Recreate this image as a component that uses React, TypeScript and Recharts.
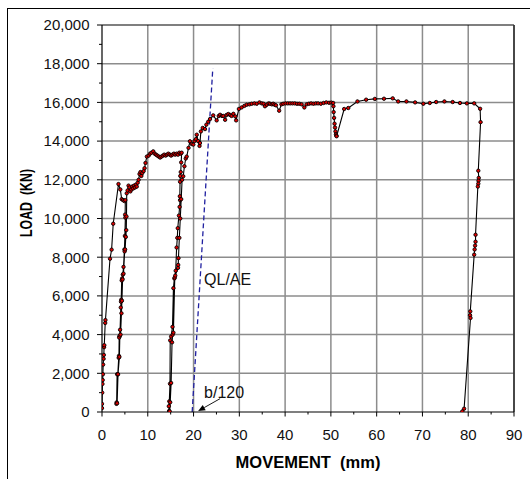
import React from 'react';
import {
  LineChart,
  Line,
  XAxis,
  YAxis,
  CartesianGrid,
  ReferenceLine,
  ReferenceDot,
} from 'recharts';

// Pile load test record: head movement (mm) against applied load (kN), in reading order
const movement = [
  0, 0, 0.05, 0.1, 0.15, 0.2, 0.25, 0.35, 0.4, 0.45, 0.5, 0.7, 0.75, 1.75, 2.1, 2.45, 3.6,
  4.0, 4.3, 4.6, 4.9, 5.1, 5.05, 5.1, 5.0,
  4.9, 4.7, 4.55, 4.4, 4.3, 4.2, 4.15, 4.1, 3.95, 3.8, 3.75, 3.7, 3.65, 3.45, 3.3, 3.2, 3.15,
  3.3, 3.5, 3.8, 3.9, 4.05, 4.25, 4.35, 4.5, 4.7, 4.95, 5.05, 5.2, 5.3, 5.35, 5.4,
  5.6, 5.8, 6.0, 6.2, 6.4, 6.6, 6.8, 7.0, 7.2, 7.4, 7.6, 7.8, 8.0, 8.2, 8.4, 8.6, 8.8, 9.1, 9.3, 9.5, 9.8,
  10.2, 10.5, 10.8, 11.2, 11.5, 11.8, 12.1, 12.4, 12.7, 13.0, 13.3, 13.6, 13.9, 14.2, 14.5, 14.8,
  15.1, 15.4, 15.7, 16.0, 16.3, 16.6, 16.9, 17.2, 17.4,
  17.3, 17.2, 17.1, 17.05, 17.0, 17.05, 16.95, 16.8, 16.55, 16.45,
  16.3, 16.1, 15.8, 15.6, 15.4, 15.1, 14.9, 14.85, 14.7, 14.6, 14.65,
  14.8, 14.9, 15.1, 15.3, 15.45, 15.6, 15.9, 16.0, 16.6, 16.65, 16.7, 16.9, 17.1, 17.3, 17.5,
  17.75, 18.0, 18.3, 18.5, 18.9, 19.2, 19.6, 19.95, 20.2, 20.5, 20.7, 21.0, 21.3, 21.4, 21.6, 22.0,
  22.5, 22.8, 23.2, 23.6, 24.3, 25.05, 25.5, 25.8, 26.2, 26.5, 26.9, 27.2, 27.6, 28.0, 28.3, 28.7,
  29.1, 29.3, 29.9, 30.5, 31.1, 31.6, 32.2, 32.7, 33.3, 33.8, 34.4, 34.9, 35.3, 35.6, 36.0, 36.4,
  36.7, 37.1, 37.4, 37.7, 38.0, 38.7, 39.2, 39.6, 40.1, 40.6, 41.1, 41.6, 42.1, 42.6, 43.1, 43.6,
  44.2, 44.7, 45.2, 45.7, 46.2, 46.7, 47.2, 47.8, 48.4, 49.0, 49.6, 50.1, 50.5,
  50.55, 50.6, 50.7, 50.8, 50.9, 51.0, 51.1, 51.2, 51.25,
  52.9, 53.8, 55.8, 57.7, 59.6, 61.6, 63.5, 64.7, 66.5, 68.4, 70.2, 71.6, 73.0, 74.8, 76.6, 78.2,
  79.7, 81.3, 82.6, 82.7,
  82.2, 82.3, 82.25, 82.2, 82.1, 81.6, 81.6, 81.5, 81.4, 81.3, 80.45, 80.4, 80.5, 79.1, 78.7,
];

const load = [
  200, 420, 1000, 1450, 1650, 1950, 2450, 2750, 2950, 3350, 3450, 4600, 4750, 7920, 8390, 9730, 11780,
  11500, 11000, 10950, 10900, 10950, 10200, 10050, 9100,
  8400, 7500, 7100, 6900, 6800, 5800, 5700, 5400, 4250, 3900, 3850, 2900, 2800, 1950, 1950, 500, 420,
  450, 1950, 2850, 3950, 4000, 5100, 5750, 6850, 7150, 8300, 8400, 9050, 9400, 10100, 11300,
  11450, 11700, 11600, 11400, 11500, 11650, 11550, 11700, 11600, 11750, 11650, 11850, 12000, 12300, 12400, 12200, 12350, 12450, 12600, 12870, 13200,
  13250, 13350, 13400, 13470, 13350, 13300, 13250, 13200, 13150, 13200, 13250, 13300, 13250, 13300, 13350, 13300,
  13250, 13300, 13350, 13300, 13350, 13300, 13400, 13350, 13400,
  12900, 12400, 12200, 11900, 11150, 10950, 10600, 10150, 9500, 9000,
  8500, 7300, 6900, 6400, 4400, 3900, 3700, 1460, 550, 300, 50,
  30, 500, 1500, 3600, 4000, 4100, 6950, 7050, 7450, 7600, 7950, 9000, 10000, 11000, 12000,
  12180, 12700, 13100, 13200, 13650, 13990, 13850, 13820, 14000, 14100, 14330, 14000, 13750, 13900, 14500, 14680,
  14620, 14850, 15000, 15140, 15330, 15070, 15300, 15360, 15300, 15300, 15100, 15350, 15400, 15350, 15300, 15410,
  15280, 15070, 15660, 15740, 15820, 15880, 15900, 15930, 15950, 15930, 16000, 15950, 15930, 15800, 15880, 15950,
  15930, 15900, 15930, 15880, 15850, 15570, 15900, 15930, 15950, 15950, 15950, 15950, 15950, 15930, 15930, 15900,
  15740, 15900, 15930, 15950, 15930, 15950, 15950, 15930, 15970, 16000, 15980, 15990, 15970,
  15800, 15500, 15200, 14900, 14700, 14500, 14350, 14280, 14250,
  15660, 15710, 16050, 16140, 16180, 16190, 16210, 16050, 16050, 16000, 15930, 15970, 16020, 16050, 16020, 15970,
  15950, 15950, 15670, 14980,
  12470, 12100, 11950, 11800, 11650, 9160, 8800, 8600, 8400, 8130, 5200, 5000, 4860, 170, 30,
];

// Elastic compression line QL/AE, offset by b/120
const qlaeMovement = [19.7, 24.2];
const qlaeLoad = [0, 17750];

const xTicks = [0, 5, 10, 15, 20, 25, 30, 35, 40, 45, 50, 55, 60, 65, 70, 75, 80, 85, 90];
const yTicks = [
  0, 1000, 2000, 3000, 4000, 5000, 6000, 7000, 8000, 9000, 10000,
  11000, 12000, 13000, 14000, 15000, 16000, 17000, 18000, 19000, 20000,
];
const xGrid = [10, 20, 30, 40, 50, 60, 70, 80];
const yGrid = [2000, 4000, 6000, 8000, 10000, 12000, 14000, 16000, 18000];

const curve = movement.map((x, i) => ({ x, y: load[i] }));
const qlae = qlaeMovement.map((x, i) => ({ x, y: qlaeLoad[i] }));

const FONT = '"Liberation Sans", Arial, Helvetica, sans-serif';

function XTick(props: any) {
  const { x, y, payload } = props;
  const major = payload.value % 10 === 0;
  return (
    <g>
      <line x1={x} x2={x} y1={y} y2={y + (major ? 4.5 : 2.5)} stroke="#000" strokeWidth={1} />
      {major && (
        <text x={x} y={y + 28} textAnchor="middle" fontSize={15} fontFamily={FONT} fill="#111">
          {payload.value}
        </text>
      )}
    </g>
  );
}

function YTick(props: any) {
  const { x, y, payload } = props;
  const major = payload.value % 2000 === 0;
  return (
    <g>
      <line x1={x - (major ? 5 : 3)} x2={x} y1={y} y2={y} stroke="#000" strokeWidth={1} />
      {major && (
        <text x={x - 12.5} y={y + 5.3} textAnchor="end" fontSize={15} fontFamily={FONT} fill="#111">
          {payload.value.toLocaleString('en-US')}
        </text>
      )}
    </g>
  );
}

function XTitle(props: any) {
  const { viewBox } = props;
  return (
    <text
      x={viewBox.x + viewBox.width / 2}
      y={viewBox.y + 55.5}
      textAnchor="middle"
      fontSize={16.5}
      fontWeight="bold"
      fontFamily={FONT}
      fill="#000"
      style={{ whiteSpace: 'pre' }}
    >
      {'MOVEMENT  (mm)'}
    </text>
  );
}

function YTitle(props: any) {
  const { viewBox } = props;
  const cx = viewBox.x + 32;
  const cy = viewBox.y + viewBox.height / 2 - 15.5;
  return (
    <text
      x={cx}
      y={cy}
      transform={`rotate(-90 ${cx} ${cy})`}
      textAnchor="middle"
      fontSize={16.5}
      fontWeight="bold"
      fontFamily={FONT}
      fill="#000"
      textLength={68}
      lengthAdjust="spacingAndGlyphs"
      style={{ whiteSpace: 'pre' }}
    >
      {'LOAD  (KN)'}
    </text>
  );
}

function Note(text: string) {
  return (p: any) => (
    <text x={p.cx} y={p.cy} fontSize={16} fontFamily={FONT} fill="#111">
      {text}
    </text>
  );
}

function Arrow(p: any) {
  const { x1, y1, x2, y2 } = p;
  const ang = Math.atan2(y2 - y1, x2 - x1);
  const len = 7;
  const w = 3;
  const bx = x2 - len * Math.cos(ang);
  const by = y2 - len * Math.sin(ang);
  const nx = -Math.sin(ang) * w;
  const ny = Math.cos(ang) * w;
  return (
    <g>
      <line x1={x1} y1={y1} x2={bx} y2={by} stroke="#000" strokeWidth={0.9} />
      <polygon points={`${x2},${y2} ${bx + nx},${by + ny} ${bx - nx},${by - ny}`} fill="#000" />
    </g>
  );
}

export default function App() {
  return (
    <div style={{ position: 'relative', width: 530, height: 479, overflow: 'hidden', background: '#fff' }}>
      <style>{'html,body{margin:0;padding:0;overflow:hidden;background:#fff}'}</style>
      <div
        style={{
          position: 'absolute',
          left: 7,
          top: 8,
          width: 700,
          height: 700,
          borderLeft: '1px solid #000',
          borderTop: '1px solid #000',
        }}
      />
      <div style={{ position: 'absolute', left: 0, top: 0 }}>
        <LineChart width={530} height={479} margin={{ top: 25, right: 16, bottom: 0, left: 0 }}>
          <CartesianGrid
            stroke="#8c8c8c"
            strokeWidth={1.5}
            horizontalValues={yGrid}
            verticalValues={xGrid}
          />
          <XAxis
            type="number"
            dataKey="x"
            domain={[0, 90]}
            ticks={xTicks}
            interval={0}
            height={67}
            axisLine={{ stroke: '#000', strokeWidth: 1.2 }}
            tickLine={false}
            tickSize={0}
            tickMargin={0}
            tick={<XTick />}
            allowDataOverflow
            label={<XTitle />}
          />
          <YAxis
            type="number"
            dataKey="y"
            domain={[0, 20000]}
            ticks={yTicks}
            interval={0}
            width={102}
            axisLine={{ stroke: '#000', strokeWidth: 1.2 }}
            tickLine={false}
            tickSize={0}
            tickMargin={0}
            tick={<YTick />}
            allowDataOverflow
            label={<YTitle />}
          />
          <ReferenceLine y={20000} stroke="#000" strokeWidth={1.2} />
          <ReferenceLine x={90} stroke="#333" strokeWidth={1.8} />
          <Line
            data={qlae}
            dataKey="y"
            type="linear"
            stroke="#2020a0"
            strokeWidth={1.3}
            strokeDasharray="5 3"
            dot={false}
            isAnimationActive={false}
          />
          <Line
            data={curve}
            dataKey="y"
            type="linear"
            stroke="#000"
            strokeWidth={1.1}
            dot={{ r: 1.7, fill: '#e00000', stroke: '#000', strokeWidth: 0.9 }}
            isAnimationActive={false}
          />
          <ReferenceDot x={22.3} y={6580} r={0} shape={Note('QL/AE')} />
          <ReferenceDot x={22.3} y={713} r={0} shape={Note('b/120')} />
          <ReferenceLine
            segment={[
              { x: 25.8, y: 690 },
              { x: 21.0, y: 50 },
            ]}
            shape={Arrow}
          />
        </LineChart>
      </div>
    </div>
  );
}
